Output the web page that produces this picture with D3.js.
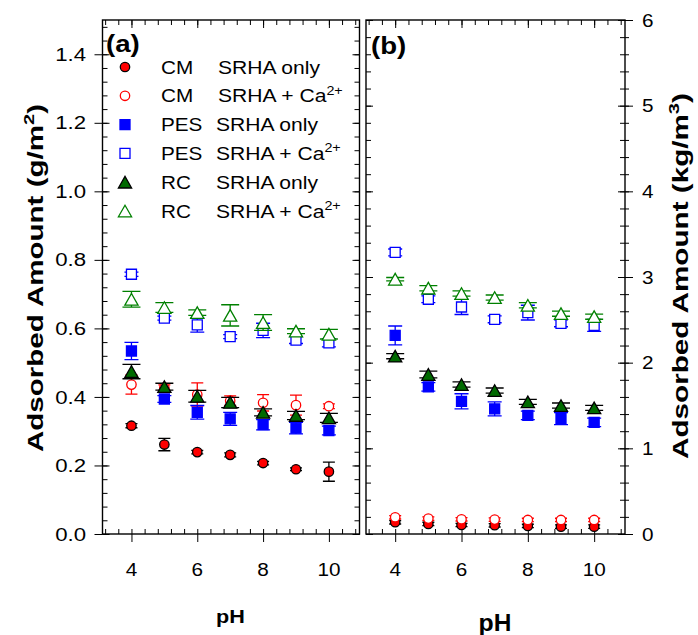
<!DOCTYPE html>
<html>
<head>
<meta charset="utf-8">
<script src="https://cdn.jsdelivr.net/npm/d3@7"></script>
<style>
  body { margin: 0; background: #fff; }
  svg { display: block; }
  text { font-family: "Liberation Sans", Arial, sans-serif; fill: #000; }
</style>
</head>
<body>
<div id="chart"></div>
<script>
// pH values shared by every series
const pH = [4, 5, 6, 7, 8, 9, 10];

// panel (a): adsorbed amount, g/m2 (mean and error)
const aCmOnly = [0.316, 0.261, 0.239, 0.231, 0.207, 0.189, 0.182];
const aCmOnlyErr = [0.006, 0.018, 0.005, 0.006, 0.005, 0.004, 0.028];
const aCmCa = [0.436, 0.427, 0.407, 0.389, 0.383, 0.376, 0.373];
const aCmCaErr = [0.028, 0.008, 0.034, 0.014, 0.024, 0.029, 0.007];
const aPesOnly = [0.534, 0.394, 0.355, 0.336, 0.319, 0.309, 0.302];
const aPesOnlyErr = [0.025, 0.010, 0.020, 0.019, 0.015, 0.017, 0.013];
const aPesCa = [0.758, 0.630, 0.610, 0.576, 0.594, 0.566, 0.558];
const aPesCaErr = [0.006, 0.006, 0.021, 0.006, 0.021, 0.010, 0.012];
const aRcOnly = [0.474, 0.430, 0.402, 0.384, 0.355, 0.346, 0.339];
const aRcOnlyErr = [0.021, 0.010, 0.017, 0.015, 0.010, 0.012, 0.013];
const aRcCa = [0.685, 0.661, 0.646, 0.638, 0.617, 0.592, 0.583];
const aRcCaErr = [0.023, 0.014, 0.008, 0.031, 0.023, 0.007, 0.014];

// panel (b): adsorbed amount, kg/m3
const bCmOnly = [0.137, 0.117, 0.105, 0.102, 0.094, 0.086, 0.086];
const bCmOnlyErr = [0.02, 0.02, 0.02, 0.02, 0.02, 0.02, 0.02];
const bCmCa = [0.195, 0.180, 0.172, 0.168, 0.164, 0.164, 0.164];
const bCmCaErr = [0.02, 0.02, 0.02, 0.02, 0.02, 0.02, 0.02];
const bPesOnly = [2.318, 1.718, 1.549, 1.460, 1.385, 1.347, 1.303];
const bPesOnlyErr = [0.11, 0.05, 0.088, 0.082, 0.05, 0.07, 0.05];
const bPesCa = [3.287, 2.740, 2.650, 2.506, 2.584, 2.459, 2.436];
const bPesCaErr = [0.04, 0.04, 0.088, 0.04, 0.086, 0.04, 0.07];
const bRcOnly = [2.076, 1.862, 1.745, 1.674, 1.542, 1.499, 1.472];
const bRcOnlyErr = [0.03, 0.04, 0.03, 0.03, 0.03, 0.03, 0.03];
const bRcCa = [2.974, 2.869, 2.807, 2.760, 2.670, 2.572, 2.537];
const bRcCaErr = [0.02, 0.03, 0.03, 0.03, 0.03, 0.03, 0.03];

// legend text
const membranes = ['CM', 'CM', 'PES', 'PES', 'RC', 'RC'];
const conditions = ['SRHA only', 'SRHA + Ca', 'SRHA only', 'SRHA + Ca', 'SRHA only', 'SRHA + Ca'];
const conditionSup = ['', '2+', '', '2+', '', '2+'];

// tick values
const xMajor = [4, 6, 8, 10];
const yMajorA = [0, 0.2, 0.4, 0.6, 0.8, 1.0, 1.2, 1.4];
const yMajorB = [0, 1, 2, 3, 4, 5, 6];

// marker styles, same order as the series
const styles = [
  {shape: 'circle', fill: '#ff0000', stroke: '#000', err: '#000', cap: 12},
  {shape: 'circle', fill: '#fff', stroke: '#ff0000', err: '#ff0000', cap: 12},
  {shape: 'square', fill: '#0000ff', stroke: '#0000ff', err: '#0000ff', cap: 14},
  {shape: 'square', fill: '#fff', stroke: '#0000ff', err: '#0000ff', cap: 14},
  {shape: 'triangle', fill: '#006a00', stroke: '#000', err: '#000', cap: 18},
  {shape: 'triangle', fill: '#fff', stroke: '#008000', err: '#008000', cap: 18}
];

const seriesA = [[aCmOnly, aCmOnlyErr], [aCmCa, aCmCaErr], [aPesOnly, aPesOnlyErr],
                 [aPesCa, aPesCaErr], [aRcOnly, aRcOnlyErr], [aRcCa, aRcCaErr]];
const seriesB = [[bCmOnly, bCmOnlyErr], [bCmCa, bCmCaErr], [bPesOnly, bPesOnlyErr],
                 [bPesCa, bPesCaErr], [bRcOnly, bRcOnlyErr], [bRcCa, bRcCaErr]];

const plotTop = 20, plotBottom = 534;
const xDomain = [3.12, 10.93];
const xA = d3.scaleLinear().domain(xDomain).range([102.5, 359.5]);
const xB = d3.scaleLinear().domain(xDomain).range([366, 625]);
const yA = d3.scaleLinear().domain([0, 1.5]).range([plotBottom, plotTop]);
const yB = d3.scaleLinear().domain([0, 6]).range([plotBottom, plotTop]);

const svg = d3.select('#chart').append('svg')
  .attr('width', 698).attr('height', 635);
svg.append('rect').attr('width', 698).attr('height', 635).attr('fill', '#fff');

// text with optional superscripts, stretched horizontally like the original
function addText(parent, x, y, parts, o) {
  const g = parent.append('g');
  const t = g.append('text')
    .attr('font-size', o.size)
    .attr('font-weight', o.weight || 'normal')
    .attr('text-anchor', o.anchor || 'start');
  let shift = 0;
  parts.forEach(p => {
    const sup = Array.isArray(p);
    const s = t.append('tspan').text(sup ? p[0] : p);
    const target = sup ? -o.size * 0.42 : 0;
    if (target !== shift) s.attr('dy', target - shift);
    shift = target;
    if (sup) s.attr('font-size', o.size * 0.68);
  });
  let sx = o.sx || 1;
  if (o.len) sx = o.len / t.node().getComputedTextLength();
  g.attr('transform', `translate(${x},${y}) rotate(${o.rotate || 0}) scale(${sx},1)`);
  return t;
}

function symbolPath(shape) {
  if (shape === 'circle') return d3.symbol(d3.symbolCircle, Math.PI * 4.7 * 4.7)();
  if (shape === 'square') return d3.symbol(d3.symbolSquare, 100)();
  return 'M0,-5.8L6.6,5.8L-6.6,5.8Z';
}

function drawTicks(g, axisFn, scale, values, size, transform) {
  g.append('g')
    .attr('transform', transform)
    .call(axisFn(scale).tickValues(values).tickSize(size).tickFormat(''))
    .call(s => s.select('.domain').remove())
    .call(s => s.selectAll('line').attr('stroke', '#000').attr('stroke-width', 1));
}

function drawPanel(x, y, yMinor, yMajor, series) {
  const g = svg.append('g');
  const [x0, x1] = x.range();
  const xMinor = d3.range(3.2, 10.95, 0.4);

  // x ticks, bottom and top
  drawTicks(g, d3.axisBottom, x, xMinor, -5, `translate(0,${plotBottom})`);
  drawTicks(g, d3.axisBottom, x, xMajor, 8, `translate(0,${plotBottom})`);
  drawTicks(g, d3.axisTop, x, xMinor, -5, `translate(0,${plotTop})`);
  drawTicks(g, d3.axisTop, x, xMajor, -8, `translate(0,${plotTop})`);
  // y ticks, left and right
  drawTicks(g, d3.axisLeft, y, yMinor, -5, `translate(${x0},0)`);
  drawTicks(g, d3.axisRight, y, yMinor, -5, `translate(${x1},0)`);
  drawTicks(g, d3.axisLeft, y, yMajor, -7, `translate(${x0},0)`);
  drawTicks(g, d3.axisRight, y, yMajor, -7, `translate(${x1},0)`);

  g.append('rect')
    .attr('x', x0).attr('y', plotTop)
    .attr('width', x1 - x0).attr('height', plotBottom - plotTop)
    .attr('fill', 'none').attr('stroke', '#000').attr('stroke-width', 1.4);

  xMajor.forEach(v => addText(g, x(v), 576, [String(v)], {size: 18.5, anchor: 'middle', sx: 1.12}));

  series.forEach(([vals, errs], i) => {
    const st = styles[i];
    const eg = g.append('g').attr('stroke', st.err).attr('stroke-width', 1.3).attr('fill', 'none');
    vals.forEach((v, j) => {
      const cx = x(pH[j]), hi = y(v + errs[j]), lo = y(v - errs[j]), w = st.cap / 2;
      eg.append('path').attr('d', `M${cx},${hi}V${lo}M${cx - w},${hi}H${cx + w}M${cx - w},${lo}H${cx + w}`);
    });
    g.append('g').selectAll('path')
      .data(vals)
      .join('path')
      .attr('transform', (v, j) => `translate(${x(pH[j])},${y(v)})`)
      .attr('d', symbolPath(st.shape))
      .attr('fill', st.fill)
      .attr('stroke', st.stroke)
      .attr('stroke-width', 1.3);
  });
  return g;
}

const gA = drawPanel(xA, yA, d3.range(0, 1.49, 0.04), yMajorA, seriesA);
const gB = drawPanel(xB, yB, d3.range(0, 6.01, 0.2), yMajorB, seriesB);

// outward major ticks on the outer axes
drawTicks(svg, d3.axisLeft, yA, yMajorA, 8, `translate(102.5,0)`);
drawTicks(svg, d3.axisRight, yB, yMajorB, 8, `translate(625,0)`);
drawTicks(svg, d3.axisRight, yB, d3.range(0, 6.01, 0.2), 4, `translate(625,0)`);

// y tick labels
yMajorA.forEach(v => addText(svg, 86, yA(v) + 6.6, [v.toFixed(1)], {size: 18.5, anchor: 'end', sx: 1.2}));
yMajorB.forEach(v => addText(svg, 642, yB(v) + 6.6, [String(v)], {size: 18.5, sx: 1.12}));

// axis titles
addText(svg, 43, 278, ['Adsorbed Amount (g/m', ['2'], ')'],
  {size: 22.5, weight: 'bold', anchor: 'middle', rotate: -90, len: 348});
addText(svg, 688, 276, ['Adsorbed Amount (kg/m', ['3'], ')'],
  {size: 22.5, weight: 'bold', anchor: 'middle', rotate: -90, len: 366});
addText(svg, 230.5, 623, ['pH'], {size: 18, weight: 'bold', anchor: 'middle', sx: 1.2});
addText(svg, 495, 631, ['pH'], {size: 23, weight: 'bold', anchor: 'middle', sx: 1.08});

// panel labels
addText(svg, 106, 52, ['(a)'], {size: 24, weight: 'bold', sx: 1.15});
addText(svg, 371, 54, ['(b)'], {size: 24, weight: 'bold', sx: 1.15});

// legend
const legendY = d3.scaleLinear().domain([0, 5]).range([67, 211]);
membranes.forEach((m, i) => {
  const st = styles[i];
  const cy = legendY(i);
  svg.append('path')
    .attr('transform', `translate(125,${cy})`)
    .attr('d', symbolPath(st.shape))
    .attr('fill', st.fill).attr('stroke', st.stroke).attr('stroke-width', 1.3);
  addText(svg, 161, cy + 6.6, [m], {size: 18.5, sx: 1.12});
  const parts = conditionSup[i] ? [conditions[i], [conditionSup[i]]] : [conditions[i]];
  addText(svg, i < 2 ? 218 : 216, cy + 6.6, parts, {size: 18.5, sx: 1.14});
});
</script>
</body>
</html>
